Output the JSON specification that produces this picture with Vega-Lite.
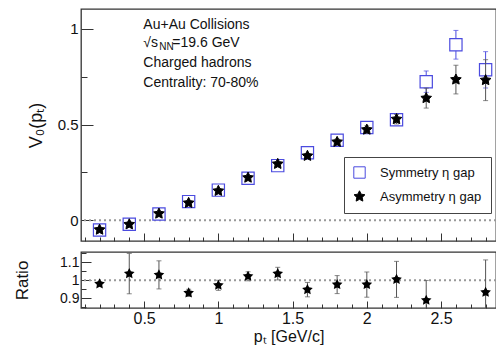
{
  "$schema": "https://vega.github.io/schema/vega-lite/v6.json",
  "background": "white",
  "padding": {"left": 12, "top": 8, "right": 0, "bottom": 0},
  "spacing": 8,
  "config": {
    "font": "Liberation Sans",
    "view": {"stroke": "#333", "strokeWidth": 1.3},
    "axis": {"grid": false, "domain": false, "tickColor": "#333", "tickWidth": 1, "labelColor": "#111", "titleColor": "#111", "titleFontWeight": "normal", "labelFont": "Liberation Sans", "titleFont": "Liberation Sans"},
    "legend": {"orient": "none", "legendX": 263, "legendY": 148, "strokeColor": "#444", "fillColor": "white", "padding": 9, "labelFontSize": 13, "labelFont": "Liberation Sans", "labelColor": "#111", "symbolSize": 130, "symbolStrokeWidth": 1, "symbolOpacity": 1, "rowPadding": 7, "labelOffset": 14}
  },
  "datasets": {
    "v0": [
      {"pt": 0.2, "series": "Symmetry η gap", "v": -0.052, "e": 0.01},
      {"pt": 0.4, "series": "Symmetry η gap", "v": -0.021, "e": 0.01},
      {"pt": 0.6, "series": "Symmetry η gap", "v": 0.032, "e": 0.01},
      {"pt": 0.8, "series": "Symmetry η gap", "v": 0.097, "e": 0.01},
      {"pt": 1.0, "series": "Symmetry η gap", "v": 0.157, "e": 0.01},
      {"pt": 1.2, "series": "Symmetry η gap", "v": 0.219, "e": 0.01},
      {"pt": 1.4, "series": "Symmetry η gap", "v": 0.285, "e": 0.01},
      {"pt": 1.6, "series": "Symmetry η gap", "v": 0.352, "e": 0.012},
      {"pt": 1.8, "series": "Symmetry η gap", "v": 0.418, "e": 0.014},
      {"pt": 2.0, "series": "Symmetry η gap", "v": 0.484, "e": 0.016},
      {"pt": 2.2, "series": "Symmetry η gap", "v": 0.525, "e": 0.02},
      {"pt": 2.4, "series": "Symmetry η gap", "v": 0.724, "e": 0.056},
      {"pt": 2.6, "series": "Symmetry η gap", "v": 0.917, "e": 0.075},
      {"pt": 2.8, "series": "Symmetry η gap", "v": 0.786, "e": 0.095},
      {"pt": 0.2, "series": "Asymmetry η gap", "v": -0.05, "e": 0.01},
      {"pt": 0.4, "series": "Asymmetry η gap", "v": -0.022, "e": 0.01},
      {"pt": 0.6, "series": "Asymmetry η gap", "v": 0.034, "e": 0.01},
      {"pt": 0.8, "series": "Asymmetry η gap", "v": 0.09, "e": 0.01},
      {"pt": 1.0, "series": "Asymmetry η gap", "v": 0.153, "e": 0.01},
      {"pt": 1.2, "series": "Asymmetry η gap", "v": 0.222, "e": 0.01},
      {"pt": 1.4, "series": "Asymmetry η gap", "v": 0.294, "e": 0.01},
      {"pt": 1.6, "series": "Asymmetry η gap", "v": 0.336, "e": 0.012},
      {"pt": 1.8, "series": "Asymmetry η gap", "v": 0.409, "e": 0.015},
      {"pt": 2.0, "series": "Asymmetry η gap", "v": 0.473, "e": 0.02},
      {"pt": 2.2, "series": "Asymmetry η gap", "v": 0.528, "e": 0.025},
      {"pt": 2.4, "series": "Asymmetry η gap", "v": 0.638, "e": 0.052},
      {"pt": 2.6, "series": "Asymmetry η gap", "v": 0.735, "e": 0.075},
      {"pt": 2.8, "series": "Asymmetry η gap", "v": 0.732, "e": 0.107}
    ],
    "ratio": [
      {"pt": 0.2, "r": 0.98, "e": 0.012},
      {"pt": 0.4, "r": 1.037, "e": 0.112},
      {"pt": 0.6, "r": 1.03, "e": 0.078},
      {"pt": 0.8, "r": 0.93, "e": 0.02},
      {"pt": 1.0, "r": 0.972, "e": 0.028},
      {"pt": 1.2, "r": 1.022, "e": 0.025},
      {"pt": 1.4, "r": 1.037, "e": 0.035},
      {"pt": 1.6, "r": 0.948, "e": 0.04},
      {"pt": 1.8, "r": 0.976, "e": 0.05},
      {"pt": 2.0, "r": 0.976, "e": 0.07},
      {"pt": 2.2, "r": 1.005, "e": 0.1},
      {"pt": 2.4, "r": 0.889, "e": 0.11},
      {"pt": 2.8, "r": 0.933, "e": 0.18}
    ]
  },
  "vconcat": [
    {
      "width": 415,
      "height": 232,
      "resolve": {"axis": {"x": "independent", "y": "independent"}},
      "layer": [
        {
          "data": {"values": [{}]},
          "mark": {"type": "rule", "color": "#999", "strokeDash": [2, 3], "strokeWidth": 2},
          "encoding": {"y": {"datum": 0, "type": "quantitative", "scale": {"domain": [-0.109, 1.104], "nice": false, "zero": false}, "axis": null}}
        },
        {
          "data": {"name": "v0"},
          "transform": [{"filter": "datum.series === 'Symmetry η gap'"}],
          "mark": {"type": "errorbar", "color": "#4b4bdf", "ticks": true, "size": 5, "thickness": 1},
          "encoding": {
            "x": {"field": "pt", "type": "quantitative", "scale": {"domain": [0.075, 2.87], "nice": false, "zero": false}, "axis": null},
            "y": {"field": "v", "type": "quantitative", "scale": {"domain": [-0.109, 1.104], "nice": false, "zero": false}, "axis": null},
            "yError": {"field": "e"}
          }
        },
        {
          "data": {"name": "v0"},
          "transform": [{"filter": "datum.series === 'Symmetry η gap'"}],
          "mark": {"type": "point", "opacity": 1, "size": 150, "strokeWidth": 1.2},
          "encoding": {
            "x": {"field": "pt", "type": "quantitative", "scale": {"domain": [0.075, 2.87], "nice": false, "zero": false},
              "axis": {"orient": "bottom", "values": [0.5, 1, 1.5, 2, 2.5], "labels": false, "tickSize": -8, "title": null}},
            "y": {"field": "v", "type": "quantitative", "scale": {"domain": [-0.109, 1.104], "nice": false, "zero": false},
              "axis": {"orient": "left", "values": [0, 0.5, 1], "format": "~g", "tickSize": -12, "labelPadding": 15, "labelFontSize": 15, "title": "V₀(pₜ)", "titleFontSize": 18, "titlePadding": 12}},
            "shape": {"field": "series", "type": "nominal", "title": null, "scale": {"domain": ["Symmetry η gap", "Asymmetry η gap"], "range": ["square", "M0,-1L0.294,-0.405L0.951,-0.309L0.476,0.155L0.588,0.809L0,0.5L-0.588,0.809L-0.476,0.155L-0.951,-0.309L-0.294,-0.405Z"]}},
            "stroke": {"field": "series", "type": "nominal", "title": null, "scale": {"domain": ["Symmetry η gap", "Asymmetry η gap"], "range": ["#4b4bdf", "#000000"]}},
            "fill": {"field": "series", "type": "nominal", "title": null, "scale": {"domain": ["Symmetry η gap", "Asymmetry η gap"], "range": ["#ffffff", "#000000"]}}
          }
        },
        {
          "data": {"name": "v0"},
          "transform": [{"filter": "datum.series === 'Asymmetry η gap'"}],
          "mark": {"type": "errorbar", "color": "#555", "ticks": true, "size": 5, "thickness": 1},
          "encoding": {
            "x": {"field": "pt", "type": "quantitative", "scale": {"domain": [0.075, 2.87], "nice": false, "zero": false}, "axis": null},
            "y": {"field": "v", "type": "quantitative", "scale": {"domain": [-0.109, 1.104], "nice": false, "zero": false}, "axis": null},
            "yError": {"field": "e"}
          }
        },
        {
          "data": {"name": "v0"},
          "transform": [{"filter": "datum.series === 'Asymmetry η gap'"}],
          "mark": {"type": "point", "opacity": 1, "size": 125, "strokeWidth": 1},
          "encoding": {
            "x": {"field": "pt", "type": "quantitative", "scale": {"domain": [0.075, 2.87], "nice": false, "zero": false},
              "axis": {"orient": "bottom", "values": [0.1, 0.2, 0.3, 0.4, 0.6, 0.7, 0.8, 0.9, 1.1, 1.2, 1.3, 1.4, 1.6, 1.7, 1.8, 1.9, 2.1, 2.2, 2.3, 2.4, 2.6, 2.7, 2.8], "labels": false, "tickSize": -4, "title": null}},
            "y": {"field": "v", "type": "quantitative", "scale": {"domain": [-0.109, 1.104], "nice": false, "zero": false},
              "axis": {"orient": "left", "values": [0.25, 0.75], "labels": false, "tickSize": -6, "title": null}},
            "shape": {"field": "series", "type": "nominal", "title": null, "scale": {"domain": ["Symmetry η gap", "Asymmetry η gap"], "range": ["square", "M0,-1L0.294,-0.405L0.951,-0.309L0.476,0.155L0.588,0.809L0,0.5L-0.588,0.809L-0.476,0.155L-0.951,-0.309L-0.294,-0.405Z"]}},
            "stroke": {"field": "series", "type": "nominal", "title": null, "scale": {"domain": ["Symmetry η gap", "Asymmetry η gap"], "range": ["#4b4bdf", "#000000"]}},
            "fill": {"field": "series", "type": "nominal", "title": null, "scale": {"domain": ["Symmetry η gap", "Asymmetry η gap"], "range": ["#ffffff", "#000000"]}}
          }
        },
        {
          "data": {"values": [{}]},
          "mark": {"type": "text", "text": "Au+Au Collisions", "align": "left", "baseline": "alphabetic", "fontSize": 14, "color": "#111"},
          "encoding": {
            "x": {"datum": 0.495, "type": "quantitative", "axis": null},
            "y": {"datum": 1.0, "type": "quantitative", "axis": null}
          }
        },
        {
          "data": {"values": [{}]},
          "mark": {"type": "text", "text": "√s", "align": "left", "baseline": "alphabetic", "fontSize": 14, "color": "#111"},
          "encoding": {
            "x": {"datum": 0.495, "type": "quantitative", "axis": null},
            "y": {"datum": 0.9036, "type": "quantitative", "axis": null}
          }
        },
        {
          "data": {"values": [{}]},
          "mark": {"type": "text", "text": "NN", "align": "left", "baseline": "alphabetic", "fontSize": 10, "dx": 16, "dy": 3, "color": "#111"},
          "encoding": {
            "x": {"datum": 0.495, "type": "quantitative", "axis": null},
            "y": {"datum": 0.9036, "type": "quantitative", "axis": null}
          }
        },
        {
          "data": {"values": [{}]},
          "mark": {"type": "text", "text": "=19.6 GeV", "align": "left", "baseline": "alphabetic", "fontSize": 14, "dx": 29, "color": "#111"},
          "encoding": {
            "x": {"datum": 0.495, "type": "quantitative", "axis": null},
            "y": {"datum": 0.9036, "type": "quantitative", "axis": null}
          }
        },
        {
          "data": {"values": [{}]},
          "mark": {"type": "text", "text": "Charged hadrons", "align": "left", "baseline": "alphabetic", "fontSize": 14, "color": "#111"},
          "encoding": {
            "x": {"datum": 0.495, "type": "quantitative", "axis": null},
            "y": {"datum": 0.802, "type": "quantitative", "axis": null}
          }
        },
        {
          "data": {"values": [{}]},
          "mark": {"type": "text", "text": "Centrality: 70-80%", "align": "left", "baseline": "alphabetic", "fontSize": 14, "color": "#111"},
          "encoding": {
            "x": {"datum": 0.495, "type": "quantitative", "axis": null},
            "y": {"datum": 0.698, "type": "quantitative", "axis": null}
          }
        }
      ]
    },
    {
      "width": 415,
      "height": 56,
      "resolve": {"axis": {"x": "independent", "y": "independent"}},
      "layer": [
        {
          "data": {"values": [{}]},
          "mark": {"type": "rule", "color": "#999", "strokeDash": [2, 3], "strokeWidth": 2},
          "encoding": {"y": {"datum": 1, "type": "quantitative", "scale": {"domain": [0.846, 1.157], "nice": false, "zero": false}, "axis": null}}
        },
        {
          "data": {"name": "ratio"},
          "mark": {"type": "errorbar", "color": "#555", "ticks": true, "size": 5, "thickness": 1, "clip": true},
          "encoding": {
            "x": {"field": "pt", "type": "quantitative", "scale": {"domain": [0.075, 2.87], "nice": false, "zero": false},
              "axis": {"orient": "bottom", "values": [0.1, 0.2, 0.3, 0.4, 0.6, 0.7, 0.8, 0.9, 1.1, 1.2, 1.3, 1.4, 1.6, 1.7, 1.8, 1.9, 2.1, 2.2, 2.3, 2.4, 2.6, 2.7, 2.8], "labels": false, "tickSize": -4, "title": null}},
            "y": {"field": "r", "type": "quantitative", "scale": {"domain": [0.846, 1.157], "nice": false, "zero": false},
              "axis": {"orient": "left", "values": [0.85, 0.95, 1.05, 1.15], "labels": false, "tickSize": -5, "title": null}},
            "yError": {"field": "e"}
          }
        },
        {
          "data": {"name": "ratio"},
          "mark": {"type": "point", "opacity": 1, "size": 125, "strokeWidth": 1, "filled": true, "color": "#000", "clip": true, "shape": "M0,-1L0.294,-0.405L0.951,-0.309L0.476,0.155L0.588,0.809L0,0.5L-0.588,0.809L-0.476,0.155L-0.951,-0.309L-0.294,-0.405Z"},
          "encoding": {
            "x": {"field": "pt", "type": "quantitative", "scale": {"domain": [0.075, 2.87], "nice": false, "zero": false},
              "axis": {"orient": "bottom", "values": [0.5, 1, 1.5, 2, 2.5], "format": "~g", "labelFontSize": 16, "tickSize": -7, "labelPadding": 9, "title": "pₜ [GeV/c]", "titleFontSize": 16, "titlePadding": 2}},
            "y": {"field": "r", "type": "quantitative", "scale": {"domain": [0.846, 1.157], "nice": false, "zero": false},
              "axis": {"orient": "left", "values": [0.9, 1, 1.1], "format": "~g", "tickSize": -10, "labelPadding": 12, "labelFontSize": 14, "title": "Ratio", "titleFontSize": 17, "titlePadding": 28}}
          }
        }
      ]
    }
  ]
}
